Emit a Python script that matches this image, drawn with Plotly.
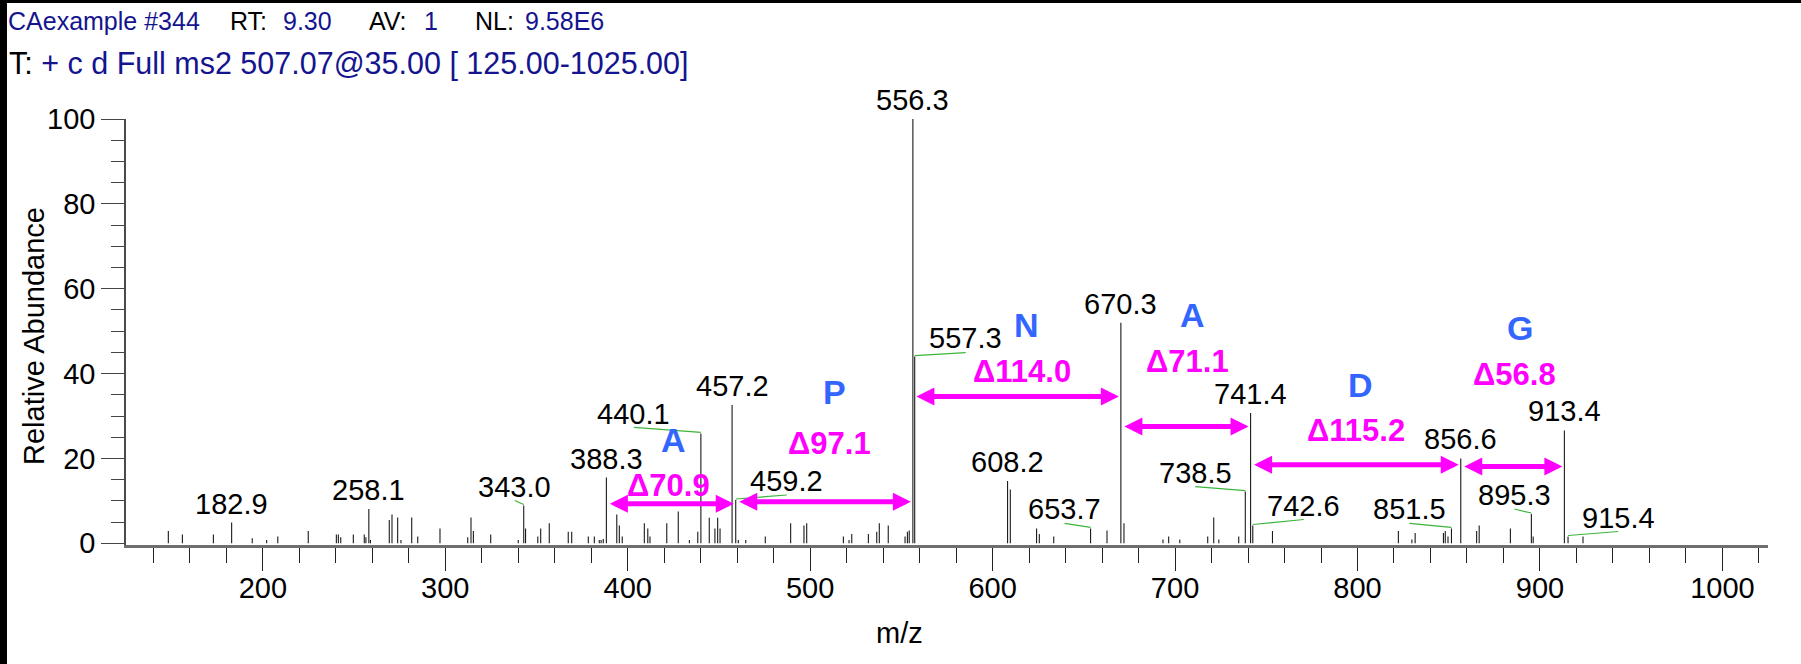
import plotly.graph_objects as go

# ---- spectrum data: m/z of each centroid and its relative abundance (%) ----
mz = [
    148.2, 155.9, 172.9, 182.9, 194.2, 202.1, 208.2, 224.9, 240.3, 241.4,
    242.7, 249.6, 255.6, 256.5, 258.1, 259.0, 269.3, 270.8, 273.9, 275.7,
    281.6, 284.9, 297.1, 312.3, 314.1, 315.4, 324.9, 340.0, 343.0, 344.0,
    350.7, 352.3, 357.0, 367.4, 369.3, 378.4, 381.7, 384.4, 385.4, 386.6,
    388.3, 394.0, 395.4, 397.0, 409.1, 411.0, 412.2, 421.4, 427.7, 433.8,
    438.4, 440.1, 444.7, 447.8, 449.3, 450.6, 457.2, 459.2, 460.6, 464.7,
    475.4, 489.3, 496.6, 498.1, 518.2, 521.3, 522.8, 531.9, 536.5, 537.9,
    542.8, 552.0, 553.3, 554.3, 556.3, 557.3, 608.2, 609.7, 624.1, 625.6,
    633.5, 653.7, 662.7, 670.3, 672.0, 693.4, 696.5, 702.6, 717.9, 721.2,
    724.0, 734.9, 738.5, 741.4, 742.6, 753.4, 822.4, 829.8, 831.6, 847.1,
    848.1, 849.6, 851.5, 856.6, 865.3, 866.7, 883.8, 895.3, 896.3, 913.4,
    915.4, 923.6,
]
intensity = [
    2.9, 2.1, 2.1, 4.9, 1.2, 0.8, 1.6, 2.9, 2.1, 2.1,
    1.4, 2.1, 2.1, 1.4, 8.1, 0.8, 5.5, 6.8, 6.1, 0.8,
    6.1, 1.6, 3.5, 1.4, 6.1, 2.9, 2.1, 0.8, 8.9, 3.5,
    1.6, 3.5, 4.7, 2.7, 2.7, 1.6, 1.6, 0.8, 0.8, 1.0,
    15.5, 6.8, 4.2, 1.6, 4.7, 3.5, 1.6, 4.7, 7.5, 0.8,
    2.7, 25.9, 6.0, 3.5, 6.0, 3.5, 32.6, 10.2, 0.8, 0.8,
    1.6, 4.7, 4.2, 4.7, 1.6, 0.8, 2.2, 2.2, 2.7, 4.7,
    4.2, 1.6, 2.7, 3.0, 100.0, 44.0, 14.7, 12.7, 3.5, 2.2,
    1.6, 3.5, 3.0, 52.0, 4.7, 0.9, 1.6, 0.9, 1.6, 6.1,
    0.9, 1.6, 12.2, 30.7, 4.2, 2.9, 2.9, 0.9, 2.4, 2.4,
    2.9, 1.6, 3.5, 20.0, 2.9, 4.2, 3.5, 6.9, 1.6, 26.6,
    1.6, 1.6,
]

# peaks that carry an m/z label
labeled_mz = [182.9, 258.1, 343.0, 388.3, 440.1, 457.2, 459.2, 556.3, 557.3,
              608.2, 653.7, 670.3, 738.5, 741.4, 742.6, 851.5, 856.6, 895.3,
              913.4, 915.4]

# sequence ladder: fragment ions and the residue read between neighbours
ladder_mz = [388.3, 459.2, 556.3, 670.3, 741.4, 856.6, 913.4]
residues = ["A", "P", "N", "A", "D", "G"]

x_tick_vals = [200, 300, 400, 500, 600, 700, 800, 900, 1000]
y_tick_vals = [0, 20, 40, 60, 80, 100]

# scan header: first line as (text, is_value) pieces, second line as one string
header_pieces = [("CAexample #344", True), ("RT:", False), ("9.30", True),
                 ("AV:", False), ("1", True), ("NL:", False), ("9.58E6", True)]
NAVY = "#14148f"
header_line2 = (f"T: <span style='color:{NAVY}'>+ c d Full ms2 507.07@35.00 "
                "[ 125.00-1025.00]</span>")

# ---- page geometry (pixels) ----
W, H = 1801, 664
L, R, T, B = 126, 33, 119, 119
PW, PH = W - L - R, H - T - B


def px_x(px):
    return (px - L) / PW


def px_y(py):
    return (H - B - py) / PH


FONT = "Arial, Liberation Sans, sans-serif"
BLUE = "#3366ff"
MAGENTA = "#ff00ff"
GREEN = "#3cb43c"

# left edges (px) of the pieces of the first header line
header_piece_left = [7, 229, 282, 368, 423, 474, 524]

# label placement: pixel offset of the leader end for labels set beside their peak
leader_offset = {
    343.0: (-9, 5), 440.1: (-67, 6), 459.2: (51, 5), 557.3: (51, 4),
    653.7: (-26, 5), 738.5: (-50, 5), 742.6: (51, 6), 851.5: (-42, 5),
    895.3: (-17, 5), 915.4: (50, 5),
}
# per ladder step: (arrow level, delta label level, residue label level, x shift)
ladder_layout = [
    (9.3, 13.7, 24.3, 0),
    (9.8, 23.6, 35.7, 8),
    (34.6, 40.4, 51.5, 8),
    (27.5, 42.8, 53.8, 5),
    (18.5, 26.7, 37.3, 3),
    (18.1, 39.7, 50.7, 5),
]

# ---- sticks ----
sx, sy = [], []
for m, v in zip(mz, intensity):
    sx += [m, m, None]
    sy += [0, v, None]

fig = go.Figure()
fig.add_trace(go.Scatter(x=sx, y=sy, mode="lines",
                         line=dict(color="#1a1a1a", width=1.1),
                         hoverinfo="skip", showlegend=False))

annotations = []
shapes = []

# m/z labels above peaks
height_of = dict(zip(mz, intensity))
for m in labeled_mz:
    v = height_of[m]
    dx, dy = leader_offset.get(m, (0, 0))
    annotations.append(dict(
        x=m, y=v, xref="x", yref="y", text=f"{m:.1f}", showarrow=False,
        xanchor="center", yanchor="bottom", xshift=dx, yshift=1,
        font=dict(family=FONT, size=29, color="black")))
    if m in leader_offset:
        shapes.append(dict(
            type="line", xref="x", yref="y", xsizemode="pixel", ysizemode="pixel",
            xanchor=m, yanchor=v, x0=0, y0=1, x1=dx, y1=dy,
            line=dict(color=GREEN, width=1.2)))

# residue ladder arrows, mass differences and residue letters
for i, res in enumerate(residues):
    a, b = ladder_mz[i], ladder_mz[i + 1]
    arrow_lvl, delta_lvl, res_lvl, xs = ladder_layout[i]
    annotations.append(dict(
        x=b, y=arrow_lvl, ax=a, ay=arrow_lvl, xref="x", yref="y",
        axref="x", ayref="y", text="", showarrow=True,
        arrowhead=2, startarrowhead=2, arrowside="end+start",
        arrowsize=0.72, startarrowsize=0.72, arrowwidth=5,
        arrowcolor=MAGENTA, standoff=2, startstandoff=2,
        font=dict(size=2)))
    annotations.append(dict(
        x=(a + b) / 2, y=delta_lvl, xref="x", yref="y",
        text=f"<b>\u0394{b - a:.1f}</b>", showarrow=False,
        xanchor="center", yanchor="middle", xshift=xs - 3,
        font=dict(family=FONT, size=31, color=MAGENTA)))
    annotations.append(dict(
        x=(a + b) / 2, y=res_lvl, xref="x", yref="y",
        text=f"<b>{res}</b>", showarrow=False,
        xanchor="center", yanchor="middle", xshift=xs + 2,
        font=dict(family=FONT, size=34, color=BLUE)))

# header lines
for (txt, is_value), left in zip(header_pieces, header_piece_left):
    annotations.append(dict(
        x=px_x(left), y=px_y(21), xref="paper", yref="paper", text=txt,
        showarrow=False, xanchor="left", yanchor="middle", borderpad=0,
        font=dict(family=FONT, size=25, color=NAVY if is_value else "black")))
annotations.append(dict(
    x=px_x(7), y=px_y(63), xref="paper", yref="paper", text=header_line2,
    showarrow=False, xanchor="left", yanchor="middle",
    font=dict(family=FONT, size=30.5, color="black")))

# axis titles
annotations.append(dict(
    x=px_x(899), y=px_y(633), xref="paper", yref="paper", text="m/z",
    showarrow=False, xanchor="center", yanchor="middle",
    font=dict(family=FONT, size=29, color="black")))
annotations.append(dict(
    x=px_x(34), y=px_y(336), xref="paper", yref="paper",
    text="Relative Abundance", textangle=-90, showarrow=False,
    xanchor="center", yanchor="middle",
    font=dict(family=FONT, size=29, color="black")))

# black frame strips along the top and left edges
shapes.append(dict(type="rect", xref="paper", yref="paper",
                   x0=px_x(0), x1=px_x(7), y0=px_y(H), y1=px_y(0),
                   fillcolor="black", line=dict(width=0), layer="below"))
shapes.append(dict(type="rect", xref="paper", yref="paper",
                   x0=px_x(0), x1=px_x(W), y0=px_y(3), y1=px_y(0),
                   fillcolor="black", line=dict(width=0), layer="below"))

fig.update_layout(
    width=W, height=H,
    margin=dict(l=L, r=R, t=T, b=B, pad=0),
    paper_bgcolor="white", plot_bgcolor="white",
    showlegend=False,
    annotations=annotations,
    shapes=shapes,
    xaxis=dict(
        range=[125, 1025], showgrid=False, zeroline=False,
        showline=True, linecolor="#6e6e6e", linewidth=2.5,
        ticks="outside", tickvals=x_tick_vals, ticklen=23, tickwidth=1.2,
        tickcolor="#222", ticklabelstandoff=-8,
        minor=dict(dtick=20, tick0=0, ticks="outside", ticklen=15,
                   tickwidth=1.2, tickcolor="#222"),
        tickfont=dict(family=FONT, size=29, color="black"),
    ),
    yaxis=dict(
        range=[-0.4, 100], showgrid=False, zeroline=False,
        showline=True, linecolor="#4a4a4a", linewidth=1.5,
        ticks="outside", tickvals=y_tick_vals, ticklen=23, tickwidth=1.2,
        tickcolor="#444",
        minor=dict(dtick=5, tick0=0, ticks="outside", ticklen=13,
                   tickwidth=1.2, tickcolor="#444"),
        tickfont=dict(family=FONT, size=29, color="black"),
    ),
)

fig.write_html("out.html", config={"displayModeBar": False})
